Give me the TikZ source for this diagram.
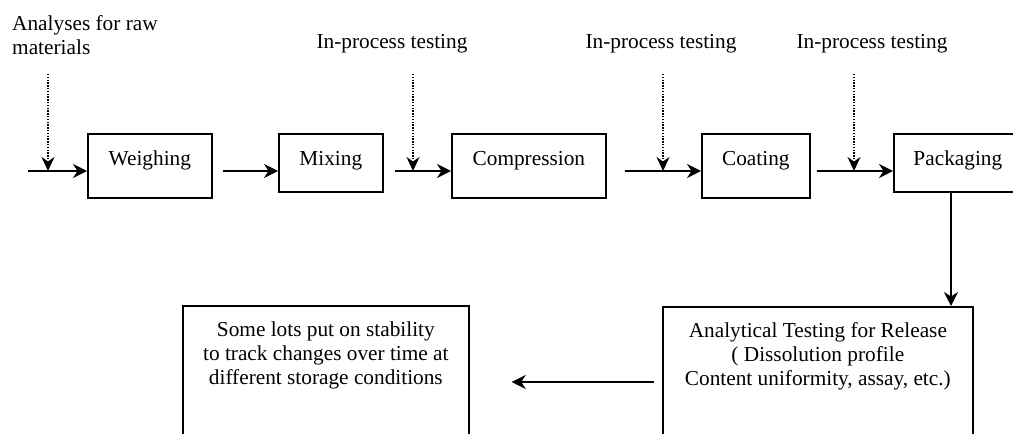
\documentclass[tikz,border=0pt]{standalone}
\usepackage{fontspec}
\setmainfont{Liberation Serif}
\usetikzlibrary{arrows.meta,calc}
\begin{document}
\begin{tikzpicture}[x=1pt,y=-1pt,
  font=\fontsize{21.3}{24}\selectfont,
  procbox/.style={draw, line width=1.7pt, inner xsep=0pt, inner ysep=0pt, text height=32pt, anchor=north west},
  bigbox/.style={draw, line width=1.7pt, inner sep=0pt, anchor=north west},
  boxtext/.style={align=center, inner sep=0pt, anchor=north},
  lbl/.style={inner sep=0pt},
  arr/.style={line width=1.7pt, -{Stealth[length=14pt,width=14pt,inset=4.5pt]}},
  dotarr/.style={line width=1.5pt, dash pattern=on 1.4pt off 1.4pt, -{Stealth[length=14pt,width=13pt,inset=4.5pt]}},
]
\useasboundingbox (0,0) rectangle (1013,434);
\clip (0,0) rectangle (1013,434);

% process boxes
\node[procbox, minimum width=124pt, text depth=32pt] (weigh) at (87,133) {Weighing};
\node[procbox, minimum width=104pt, text depth=26pt] (mix) at (278,133) {Mixing};
\node[procbox, minimum width=154pt, text depth=32pt] (comp) at (451,133) {Compression};
\node[procbox, minimum width=108pt, text depth=32pt] (coat) at (701,133) {Coating};
\node[procbox, minimum width=128pt, text depth=26pt] (pack) at (893,133) {Packaging};

% lower boxes
\node[bigbox, minimum width=286pt, minimum height=150pt] (stab) at (182,305) {};
\node[boxtext] (stabtxt) at ($(stab.north)+(0,17)$) {Some lots put on stability\\to track changes over time at\\different storage conditions};
\node[bigbox, minimum width=310pt, minimum height=150pt] (ana) at (662,306) {};
\node[boxtext] (anatxt) at ($(ana.north)+(0,16)$) {Analytical Testing for Release\\( Dissolution profile\\Content uniformity, assay, etc.)};

% top labels
\node[lbl, anchor=north west, align=left] (raw) at (12,15) {Analyses for raw\\materials};
\node[lbl, anchor=base] (ip1) at (392,48) {In-process testing};
\node[lbl, anchor=base] (ip2) at (661,48) {In-process testing};
\node[lbl, anchor=base] (ip3) at (872,48) {In-process testing};

% flow arrows
\coordinate (in0) at (28,171);
\draw[arr] (in0) -- (in0 -| weigh.west);
\draw[arr] ($(weigh.east |- in0)+(10,0)$) -- (mix.west |- in0);
\draw[arr] ($(mix.east |- in0)+(11,0)$) -- (comp.west |- in0);
\draw[arr] ($(comp.east |- in0)+(18,0)$) -- (coat.west |- in0);
\draw[arr] ($(coat.east |- in0)+(6,0)$) -- (pack.west |- in0);

% testing inputs (dotted)
\coordinate (t0) at (48,74);
\coordinate (t1) at (413,74);
\coordinate (t2) at (663,74);
\coordinate (t3) at (854,74);
\foreach \t in {t0,t1,t2,t3} \draw[dotarr] (\t) -- (\t |- in0);

% packaging -> analytical testing
\coordinate (vx) at (951,0);
\draw[arr] (pack.south -| vx) -- (ana.north -| vx);

% analytical testing -> stability
\coordinate (ly) at (0,382);
\draw[arr] ($(ana.west |- ly)+(-8,0)$) -- ($(stab.east |- ly)+(42,0)$);
\end{tikzpicture}
\end{document}
